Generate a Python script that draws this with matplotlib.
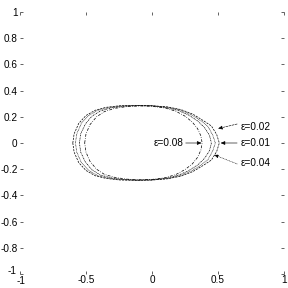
import numpy as np
import matplotlib
matplotlib.use('Agg')
import matplotlib.pyplot as plt
import matplotlib.transforms as mtransforms

plt.rcParams['font.family'] = ['Liberation Sans', 'DejaVu Sans']
plt.rcParams['axes.unicode_minus'] = False

# curve points (upper half, then lower half for same x)
x_01 = [-0.60, -0.59, -0.555, -0.50, -0.43, -0.35, -0.25, -0.12, 0.00, 0.12, 0.22, 0.31, 0.39, 0.45, 0.49, 0.51]
yt_01 = [0.00, 0.07, 0.15, 0.21, 0.25, 0.272, 0.284, 0.287, 0.285, 0.275, 0.255, 0.22, 0.17, 0.13, 0.065, 0.00]
yb_01 = [0.00, -0.07, -0.15, -0.21, -0.25, -0.27, -0.282, -0.285, -0.283, -0.273, -0.253, -0.218, -0.17, -0.13, -0.065, 0.00]

x_02 = [-0.58, -0.57, -0.535, -0.48, -0.41, -0.33, -0.24, -0.12, 0.00, 0.12, 0.21, 0.30, 0.37, 0.425, 0.46, 0.48]
yt_02 = [0.00, 0.07, 0.15, 0.21, 0.25, 0.27, 0.282, 0.286, 0.284, 0.273, 0.252, 0.215, 0.17, 0.125, 0.06, 0.00]
yb_02 = [0.00, -0.07, -0.15, -0.21, -0.25, -0.268, -0.28, -0.284, -0.282, -0.271, -0.25, -0.213, -0.17, -0.125, -0.06, 0.00]

x_04 = [-0.55, -0.54, -0.505, -0.455, -0.39, -0.31, -0.22, -0.11, 0.00, 0.11, 0.20, 0.28, 0.35, 0.40, 0.435, 0.45]
yt_04 = [0.00, 0.07, 0.145, 0.205, 0.245, 0.268, 0.28, 0.285, 0.283, 0.27, 0.248, 0.212, 0.165, 0.115, 0.06, 0.00]
yb_04 = [0.00, -0.07, -0.145, -0.205, -0.245, -0.266, -0.278, -0.283, -0.281, -0.268, -0.246, -0.21, -0.165, -0.115, -0.06, 0.00]

x_08 = [-0.51, -0.50, -0.47, -0.42, -0.36, -0.28, -0.19, -0.09, 0.00, 0.10, 0.18, 0.25, 0.305, 0.345, 0.37, 0.38]
yt_08 = [0.00, 0.07, 0.14, 0.20, 0.24, 0.265, 0.278, 0.283, 0.28, 0.267, 0.243, 0.205, 0.16, 0.11, 0.055, 0.00]
yb_08 = [0.00, -0.07, -0.14, -0.20, -0.24, -0.263, -0.276, -0.281, -0.278, -0.265, -0.241, -0.203, -0.16, -0.11, -0.055, 0.00]

labels = ['ε=0.02', 'ε=0.01', 'ε=0.04', 'ε=0.08']
text_xy = [(0.675, 0.125), (0.675, 0.0), (0.675, -0.155), (0.235, 0.0)]
head_xy = [(0.50, 0.11), (0.52, 0.0), (0.47, -0.09), (0.375, 0.0)]

ticks_x = [-1, -0.5, 0, 0.5, 1]
ticks_y = [-1, -0.8, -0.6, -0.4, -0.2, 0, 0.2, 0.4, 0.6, 0.8, 1]

fig = plt.figure(figsize=(4, 4), dpi=72)
ax = fig.add_axes([20/288, 14/288, 264/288, 262/288])

def closed(x, yt, yb):
    return list(x) + list(x[::-1]), list(yt) + list(yb[::-1])

for (x, yt, yb), ls in [((x_01, yt_01, yb_01), (0, (3, 1.5))),
                        ((x_02, yt_02, yb_02), (0, (1, 1))),
                        ((x_04, yt_04, yb_04), (0, (2, 1, 1, 1))),
                        ((x_08, yt_08, yb_08), (0, (4, 2, 1, 2)))]:
    xs, ys = closed(x, yt, yb)
    ax.plot(xs, ys, color='black', lw=0.7, linestyle=ls)

arrow_ls = ['--', '-', ':', '-']
for lab, txy, hxy, als in zip(labels, text_xy, head_xy, arrow_ls):
    if lab == 'ε=0.08':
        ax.text(txy[0], txy[1], lab, fontsize=10, ha='right', va='center')
        tail = (txy[0] + 0.02, txy[1])
    else:
        ax.text(txy[0], txy[1], lab, fontsize=10, ha='left', va='center')
        tail = (txy[0] - 0.03, txy[1] + (0.02 if lab == 'ε=0.02' else (-0.005 if lab == 'ε=0.04' else 0)))
    ax.annotate('', xy=hxy, xytext=tail,
                arrowprops=dict(arrowstyle='-|>,head_length=0.35,head_width=0.15',
                                color='black', lw=0.6, linestyle=als,
                                shrinkA=0, shrinkB=0))

ax.set_xlim(-1, 1)
ax.set_ylim(-1, 1)
ax.set_xticks(ticks_x)
ax.set_yticks(ticks_y)
ax.set_xticklabels(['-1', '-0.5', '0', '0.5', '1'])
ax.set_yticklabels(['-1', '-0.8', '-0.6', '-0.4', '-0.2', '0', '0.2', '0.4', '0.6', '0.8', '1'])
for s in ax.spines.values():
    s.set_visible(False)
ax.tick_params(direction='in', length=3, width=0.6, labelsize=10, pad=1,
               top=True, right=True)
ax.tick_params(axis='y', pad=2.5)

# corner labels sit on top of each other in the original, nudge a bit
ylab = ax.get_yticklabels()[0]
ylab.set_transform(ylab.get_transform() + mtransforms.ScaledTranslation(-1/72, 4/72, fig.dpi_scale_trans))
xlab = ax.get_xticklabels()[0]
xlab.set_transform(xlab.get_transform() + mtransforms.ScaledTranslation(1/72, -1/72, fig.dpi_scale_trans))

fig.savefig('out.png', dpi=72)
